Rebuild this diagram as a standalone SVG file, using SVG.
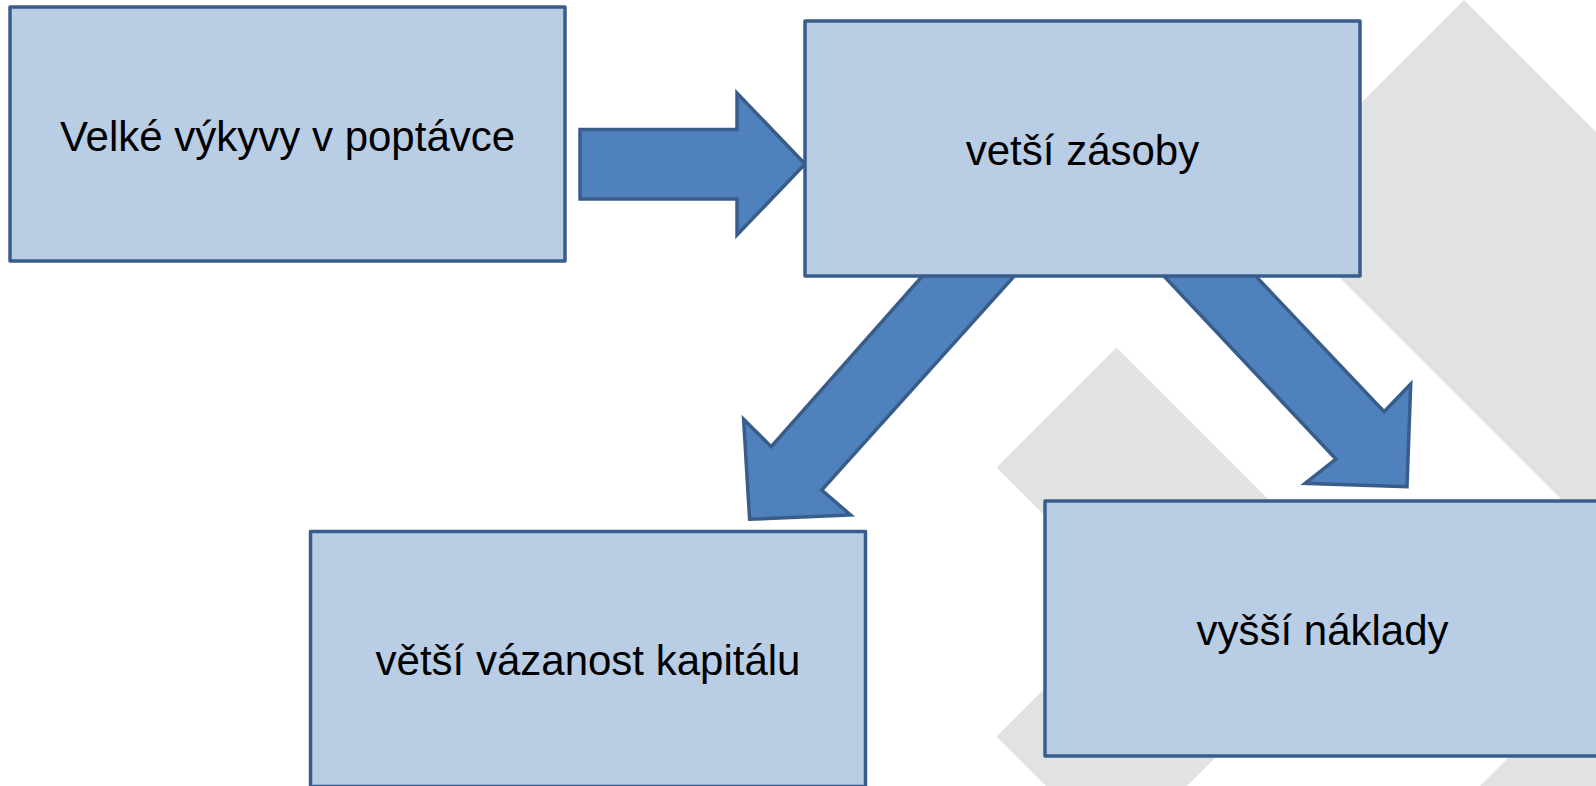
<svg xmlns="http://www.w3.org/2000/svg" width="1596" height="786" viewBox="0 0 1596 786">
<style>
.bg{fill:#e1e3e2;stroke:none}
.box{fill:#b9cde5;stroke:#385d8a;stroke-width:3.5;stroke-linejoin:round}
.arrow{fill:#4f81bd;stroke:#385d8a;stroke-width:3.5;stroke-linejoin:miter}
.lbl{font-family:"Liberation Sans",Arial,sans-serif;font-size:42px;fill:#000;text-anchor:middle}
</style>
<rect width="1596" height="786" fill="#ffffff"/>
<g id="background">
<polygon class="bg" points="1464,0 2066,602 1464,1204 1263,1003 1664,602 1263,201"/>
<polygon class="bg" points="1116.5,347.5 1371,602 1116.5,856.5 996.5,736.5 1131,602 996.5,467.5"/>
</g>
<g id="connectors">
<polygon class="arrow" points="580,129.5 737,129.5 737,93 805,164 737,235 737,199 580,199"/>
<polygon class="arrow" points="929.5,268 1021.5,268 821.7,490 850.6,515 749.6,519.3 743.6,419.3 771.2,446.7"/>
<polygon class="arrow" points="1156.3,268 1248,268 1384.1,411.7 1410.7,384 1407,486.7 1305.1,483.3 1335.9,459"/>
</g>
<g id="node1">
<rect class="box" x="10" y="7" width="555" height="254"/>
<text class="lbl" x="287.5" y="151">Velké výkyvy v poptávce</text>
</g>
<g id="node2">
<rect class="box" x="805" y="21" width="555" height="255"/>
<text class="lbl" x="1082.5" y="165">vetší zásoby</text>
</g>
<g id="node3">
<rect class="box" x="310.5" y="531.5" width="555" height="255"/>
<text class="lbl" x="588" y="675">větší vázanost kapitálu</text>
</g>
<g id="node4">
<rect class="box" x="1045" y="501" width="555" height="255"/>
<text class="lbl" x="1322.5" y="645">vyšší náklady</text>
</g>
</svg>
